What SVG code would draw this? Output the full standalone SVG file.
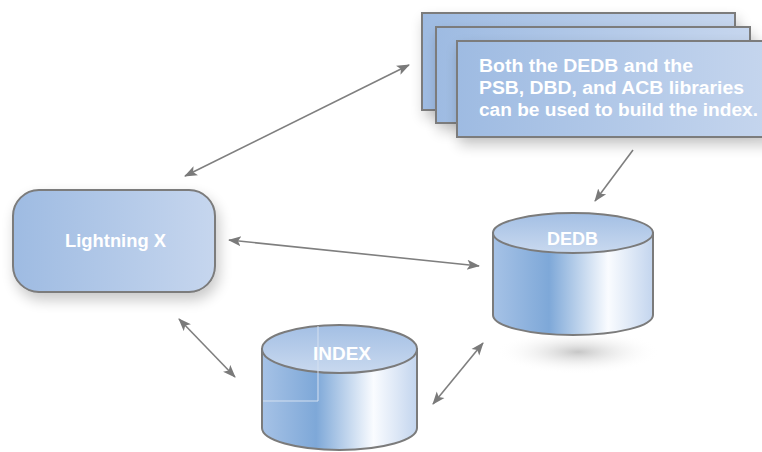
<svg xmlns="http://www.w3.org/2000/svg" width="762" height="452" viewBox="0 0 762 452">
<defs>
<style>
.box{stroke:#7b7b7b;stroke-width:2}
.lbl{font-family:"Liberation Sans",Arial,sans-serif;font-weight:bold;fill:#ffffff}
.conn{stroke:#7f7f7f;stroke-width:1.6;fill:none}
</style>
<linearGradient id="boxg" x1="0" y1="0" x2="1" y2="0">
<stop offset="0" stop-color="#9ebbe2"/>
<stop offset="1" stop-color="#c6d6ee"/>
</linearGradient>
<linearGradient id="cylg" x1="0" y1="0" x2="1" y2="0">
<stop offset="0" stop-color="#a6c2e6"/>
<stop offset="0.35" stop-color="#7ea8d8"/>
<stop offset="0.72" stop-color="#fafcff"/>
<stop offset="1" stop-color="#c3d5ee"/>
</linearGradient>
<linearGradient id="topg" x1="0" y1="0" x2="0" y2="1">
<stop offset="0" stop-color="#a3bfe4"/>
<stop offset="1" stop-color="#c9d9ef"/>
</linearGradient>
<radialGradient id="shad" cx="0.5" cy="0.5" r="0.5">
<stop offset="0" stop-color="#b8b8b8" stop-opacity="0.8"/>
<stop offset="1" stop-color="#ffffff" stop-opacity="0"/>
</radialGradient>
<filter id="ds" x="-20%" y="-20%" width="140%" height="150%">
<feGaussianBlur in="SourceAlpha" stdDeviation="7"/>
<feOffset dx="3" dy="7"/>
<feComponentTransfer><feFuncA type="linear" slope="0.22"/></feComponentTransfer>
<feMerge><feMergeNode/><feMergeNode in="SourceGraphic"/></feMerge>
</filter>
<marker id="ah" markerUnits="userSpaceOnUse" markerWidth="14" markerHeight="12" refX="12" refY="5" orient="auto-start-reverse" viewBox="0 0 14 10">
<path d="M0,0 L13,5 L0,10 L3,5 Z" fill="#7a7a7a"/>
</marker>
</defs>
<rect width="762" height="452" fill="#ffffff"/>

<g id="connectors">
<line class="conn" x1="185" y1="176" x2="409" y2="65" marker-start="url(#ah)" marker-end="url(#ah)"/>
<line class="conn" x1="229" y1="240" x2="479" y2="266" marker-start="url(#ah)" marker-end="url(#ah)"/>
<line class="conn" x1="179" y1="319" x2="235" y2="377" marker-start="url(#ah)" marker-end="url(#ah)"/>
<line class="conn" x1="483" y1="343" x2="433" y2="404" marker-start="url(#ah)" marker-end="url(#ah)"/>
<line class="conn" x1="633" y1="150" x2="595" y2="201" marker-end="url(#ah)"/>
</g>

<g id="libraries">
<rect class="box" x="422" y="13" width="313" height="97" fill="url(#boxg)" filter="url(#ds)"/>
<rect class="box" x="436" y="27" width="314" height="96" fill="url(#boxg)" filter="url(#ds)"/>
<rect class="box" x="457" y="41" width="320" height="96" fill="url(#boxg)" filter="url(#ds)"/>
<text class="lbl" font-size="17.5" x="479" y="72" textLength="214" lengthAdjust="spacingAndGlyphs">Both the DEDB and the</text>
<text class="lbl" font-size="17.5" x="479" y="94" textLength="265" lengthAdjust="spacingAndGlyphs">PSB, DBD, and ACB libraries</text>
<text class="lbl" font-size="17.5" x="479" y="116" textLength="279" lengthAdjust="spacingAndGlyphs">can be used to build the index.</text>
</g>

<g id="lightning">
<rect class="box" x="13" y="190" width="202" height="102" rx="26" fill="url(#boxg)" filter="url(#ds)"/>
<text class="lbl" font-size="18" x="65" y="247" textLength="101" lengthAdjust="spacingAndGlyphs">Lightning X</text>
</g>

<g id="dedb">
<ellipse cx="578" cy="352" rx="82" ry="22" fill="url(#shad)"/>
<path class="box" d="M493,233 L493,315 A80,20 0 0 0 653,315 L653,233 Z" fill="url(#cylg)"/>
<ellipse class="box" cx="573" cy="233" rx="80" ry="20" fill="url(#topg)"/>
<text class="lbl" font-size="18" x="547" y="245" textLength="51" lengthAdjust="spacingAndGlyphs">DEDB</text>
</g>

<g id="index">
<path class="box" d="M262,349 L262,428 A77.5,22 0 0 0 417,428 L417,349 Z" fill="url(#cylg)"/>
<ellipse class="box" cx="339.5" cy="349" rx="77.5" ry="24" fill="url(#topg)"/>
<path d="M318,326 L318,401 L263,401" stroke="#d4e0f0" stroke-width="1" fill="none"/>
<text class="lbl" font-size="18" x="313" y="360" textLength="58" lengthAdjust="spacingAndGlyphs">INDEX</text>
</g>
</svg>
